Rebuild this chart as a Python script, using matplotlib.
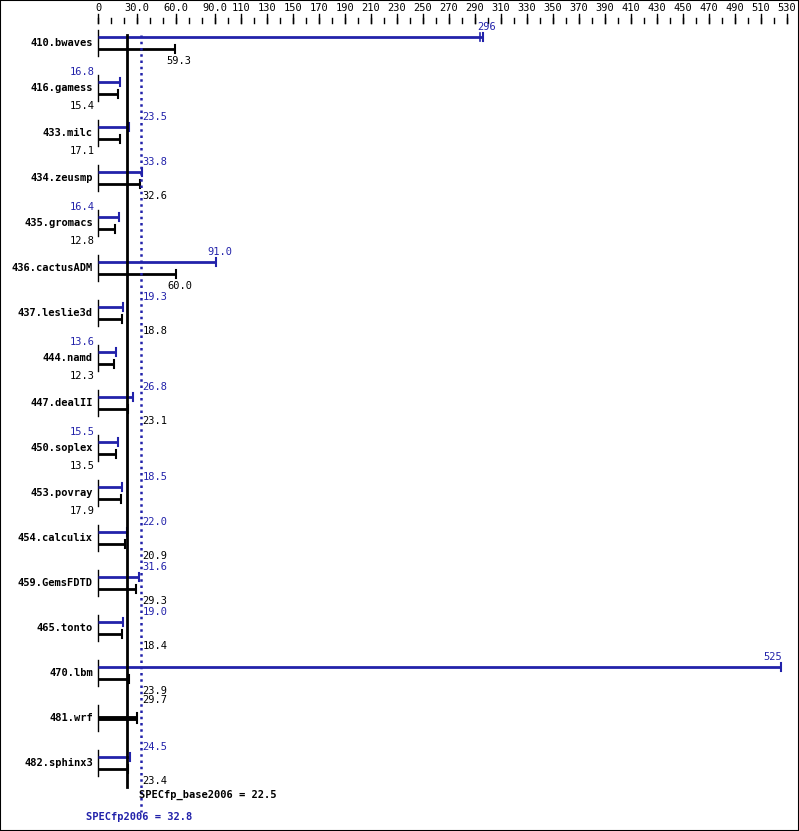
import matplotlib
matplotlib.use("Agg")
import matplotlib.pyplot as plt

benchmarks = ["410.bwaves", "416.gamess", "433.milc", "434.zeusmp", "435.gromacs",
              "436.cactusADM", "437.leslie3d", "444.namd", "447.dealII", "450.soplex",
              "453.povray", "454.calculix", "459.GemsFDTD", "465.tonto", "470.lbm",
              "481.wrf", "482.sphinx3"]
peak = [296, 16.8, 23.5, 33.8, 16.4, 91.0, 19.3, 13.6, 26.8, 15.5, 18.5, 22.0, 31.6, 19.0, 525, 29.7, 24.5]
base = [59.3, 15.4, 17.1, 32.6, 12.8, 60.0, 18.8, 12.3, 23.1, 13.5, 17.9, 20.9, 29.3, 18.4, 23.9, 29.7, 23.4]
tick_labels = [0, 30, 60, 90] + list(range(110, 531, 20))
minor_ticks = list(range(0, 531, 10))
spec_base = 22.5
spec_peak = 32.8

BLUE = "#2222aa"
W, H = 799, 831
PX = 1.3
X0 = 98
fig = plt.figure(figsize=(W/100, H/100), dpi=100)
ax = fig.add_axes([0, 0, 1, 1])
ax.set_xlim(-X0/PX, (W-X0)/PX)
ax.set_ylim(H, 0)
ax.axis("off")
fig.patches.append(plt.Rectangle((0, 0), 1, 1, transform=fig.transFigure,
                                 fill=False, edgecolor="black", lw=1.5))
mono = "DejaVu Sans Mono"
fs = 7.5
dx = 1/PX  # one pixel in data units

# axis ticks
for t in minor_ticks:
    ax.plot([t, t], [18, 23], color="black", lw=1)
for t in tick_labels:
    ax.plot([t, t], [14, 23], color="black", lw=1)
    lab = f"{t:.1f}" if t in (30, 60, 90) else str(t)
    ax.text(t, 8, lab, ha="center", va="center", fontsize=fs, family=mono)

def vlabel(v, y, color):
    txt = f"{v:.1f}" if v < 100 else f"{v:.0f}"
    if v < 18:
        ax.text(-2.5, y, txt, ha="right", va="center", fontsize=fs, family=mono, color=color)
    elif v <= 40:
        ax.text(spec_peak + 1.5, y, txt, ha="left", va="center", fontsize=fs, family=mono, color=color)
    elif v > 500:
        ax.text(v + 1, y, txt, ha="right", va="center", fontsize=fs, family=mono, color=color)
    else:
        ax.text(v + 3, y, txt, ha="center", va="center", fontsize=fs, family=mono, color=color)

for i, name in enumerate(benchmarks):
    y = 43 + 45 * i
    ax.text(-4, y, name, ha="right", va="center", fontsize=fs, family=mono, fontweight="bold")
    ax.plot([0, 0], [y - 13, y + 13], color="black", lw=1)
    p, b = peak[i], base[i]
    if p == b:
        ax.plot([0, p], [y, y], color="black", lw=3.5, solid_capstyle="butt")
        ax.plot([p, p], [y - 5, y + 5], color="black", lw=1.5)
        vlabel(p, y - 18, "black")
        continue
    ax.plot([0, p], [y - 6, y - 6], color=BLUE, lw=2, solid_capstyle="butt")
    ax.plot([p, p], [y - 10, y - 2], color=BLUE, lw=1.5)
    if name == "410.bwaves":
        ax.plot([p - 3*dx, p - 3*dx], [y - 10, y - 2], color=BLUE, lw=1.2)
    ax.plot([0, b], [y + 6, y + 6], color="black", lw=2, solid_capstyle="butt")
    ax.plot([b, b], [y + 2, y + 10], color="black", lw=1.5)
    vlabel(p, y - 16, BLUE)
    vlabel(b, y + 18, "black")

ax.plot([spec_base, spec_base], [35, 787], color="black", lw=2)
ax.plot([spec_peak, spec_peak], [35, 812], color=BLUE, lw=1.8, linestyle=(0, (1, 1.5)))
ax.text(spec_base + 12*dx, 795, f"SPECfp_base2006 = {spec_base}", ha="left", va="center",
        fontsize=fs, family=mono, fontweight="bold")
ax.text(spec_peak - 1, 817, f"SPECfp2006 = {spec_peak}", ha="center", va="center",
        fontsize=fs, family=mono, fontweight="bold", color=BLUE)

fig.savefig("out.png", dpi=100)
